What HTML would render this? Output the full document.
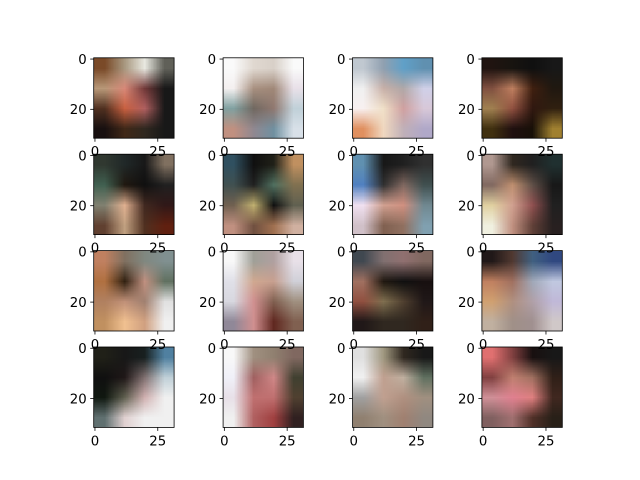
<!DOCTYPE html>
<html><head><meta charset="utf-8">
<style>
body{margin:0;background:#fff;width:640px;height:480px;overflow:hidden;position:relative;font-family:"DejaVu Sans","Liberation Sans",sans-serif}
canvas.im{position:absolute;width:80.4px;height:80.4px}
svg{position:absolute;left:0;top:0}
</style></head><body>
<div id="wrap"></div>
<svg id="ax" width="640" height="480"></svg>
<script>
const images = [
["#7a4a28","#a89880","#e8e8e0","#606058","#b89878","#d88878","#703838","#181818","#503020","#c86040","#b06060","#181818","#181010","#402818","#302820","#181818"],
["#fafafa","#e0d8d0","#d8d0c8","#fafafa","#f4f0f0","#a89080","#a08878","#e8e0e8","#80a0a0","#706860","#907870","#c0d0d8","#c09080","#908890","#7090a0","#d8e0e8"],
["#c0c8d0","#90a0b0","#60a0c8","#6090b0","#f0f0f0","#c8b0a8","#b0a8a8","#d0d0e8","#f8f0f0","#f0e0c8","#d0a0a0","#d8c8d8","#e09060","#f0d8c0","#c0b0b8","#b0a8c8"],
["#201410","#181410","#101010","#181818","#805040","#c08060","#402010","#201810","#a08050","#905040","#301810","#302010","#403010","#201010","#181008","#a08030"],
["#303830","#202828","#181818","#807060","#406050","#201810","#101010","#202020","#808070","#e0b090","#402820","#301818","#604030","#c0a080","#503020","#602010"],
["#305060","#101010","#202018","#c09060","#405050","#202020","#507060","#807050","#706050","#c0b070","#101010","#606050","#c09080","#705040","#a07050","#d0b0a0"],
["#6090b0","#181818","#202020","#303030","#5080c0","#303030","#806860","#405050","#f0e0f0","#d0a090","#d09080","#708890","#d0c0c8","#806050","#907060","#80a0b0"],
["#b09890","#302820","#202020","#203030","#806860","#c09070","#605048","#181818","#e0d0a0","#d0a090","#905050","#202020","#f0f0e0","#c09080","#604038","#282020"],
["#c08060","#807060","#808880","#809090","#b07040","#302010","#c09080","#607060","#b08060","#c09078","#a08070","#e0e0e0","#c09060","#f0c090","#d0a080","#f0f0f0"],
["#f8f8f8","#a0a098","#b0a0a0","#e8e0e8","#e0e0e8","#d0a890","#c8a090","#d0d0d8","#d8d8e0","#d09090","#806050","#a09080","#908898","#d09090","#602820","#806050"],
["#404850","#807070","#907070","#806860","#a07060","#201810","#101010","#181010","#905040","#807050","#504030","#201818","#201818","#302820","#302820","#302018"],
["#201818","#503830","#406080","#304880","#c08060","#a07060","#a0a8b8","#c0c8e0","#d0a070","#b09080","#b0a0a8","#c0b8d8","#c0b0a0","#a09088","#a09090","#d0c8c8"],
["#202018","#181818","#182020","#5080a0","#101010","#201818","#807070","#c0d0d8","#101810","#606050","#d0b0b0","#f0f0f0","#607070","#e0d0d0","#f0f0f0","#f0f0f0"],
["#f8f8f8","#a09080","#908070","#806860","#f0f0f8","#a06060","#d08888","#404030","#e8e0e8","#c07070","#c07070","#504030","#f0f0f0","#b06060","#a04040","#302020"],
["#e0e0e0","#a09880","#302820","#181818","#f0f0f0","#c0a090","#c0b0a0","#607060","#a0a0a0","#c0a090","#b09080","#a09080","#908070","#a09080","#a08070","#908880"],
["#e07070","#804040","#181010","#181818","#804040","#c08070","#a07060","#302018","#d09098","#e08090","#e08080","#402820","#806060","#a07070","#503028","#282018"]
];
const xTicks = [0, 25];
const yTicks = [0, 20];
const nPix = 32;
const S = 80.4;
const colCenters = [133.9, 263.3, 392.7, 522.1];
const rowTops = [57.8, 154.2, 250.6, 347.0];
const wrap = document.getElementById('wrap');
const svg = document.getElementById('ax');
const NS = 'http://www.w3.org/2000/svg';
function mk(tag, attrs){const e=document.createElementNS(NS,tag);for(const k in attrs)e.setAttribute(k,attrs[k]);return e;}
images.forEach((img, i) => {
  const r = Math.floor(i/4), c = i%4;
  const left = colCenters[c] - S/2, top = rowTops[r];
  const cv = document.createElement('canvas');
  cv.width = 4; cv.height = 4; cv.className = 'im';
  cv.style.left = left + 'px'; cv.style.top = top + 'px';
  
  
  const ctx = cv.getContext('2d');
  img.forEach((col, k) => { ctx.fillStyle = col; ctx.fillRect(k%4, Math.floor(k/4), 1, 1); });
  wrap.appendChild(cv);
  const frame = mk('rect', {x:left, y:top, width:S, height:S, fill:'none', stroke:'#000', 'stroke-width':0.8});
  
  
  svg.appendChild(frame);
  const px = S/nPix;
  xTicks.forEach(v => {
    const x = left + (v+0.5)*px;
    const t = mk('line', {x1:x, x2:x, y1:top+S, y2:top+S+3.5, stroke:'#000', 'stroke-width':0.8});
    
    
    svg.appendChild(t);
    const l = mk('text', {x:x, y:top+S+18, 'text-anchor':'middle', 'font-size':13.3, fill:'#000'});
    l.textContent = v;
    
    
    svg.appendChild(l);
  });
  yTicks.forEach(v => {
    const y = top + (v+0.5)*px;
    const t = mk('line', {x1:left-3.5, x2:left, y1:y, y2:y, stroke:'#000', 'stroke-width':0.8});
    
    
    svg.appendChild(t);
    const l = mk('text', {x:left-7, y:y+4.8, 'text-anchor':'end', 'font-size':13.3, fill:'#000'});
    l.textContent = v;
    
    
    svg.appendChild(l);
  });
});
</script>
</body></html>
